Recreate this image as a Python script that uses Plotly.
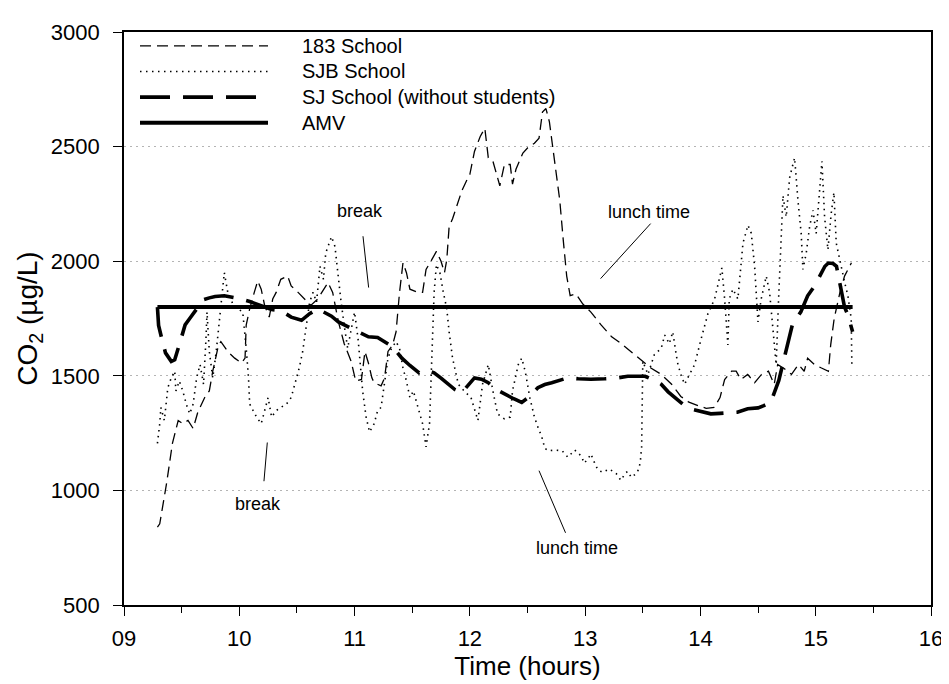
import plotly.graph_objects as go

# ---------------- data ----------------
hours_183 = [9.29, 9.31, 9.37, 9.42, 9.47, 9.51, 9.555, 9.60, 9.64, 9.70, 9.74, 9.77, 9.82, 9.84,
             9.90, 9.96, 10.02, 10.05, 10.06, 10.09, 10.13, 10.16, 10.19, 10.22, 10.26, 10.29,
             10.32, 10.36, 10.42, 10.45, 10.51, 10.57, 10.62, 10.68, 10.73, 10.77, 10.81, 10.86,
             10.91, 10.97, 11.01, 11.06, 11.09, 11.12, 11.15, 11.17, 11.23, 11.26, 11.29, 11.33,
             11.36, 11.39, 11.42, 11.45, 11.48, 11.55, 11.59, 11.62, 11.67, 11.71, 11.75, 11.78,
             11.80, 11.82, 11.85, 11.93, 11.97, 12.00, 12.04, 12.09, 12.13, 12.16, 12.20, 12.26,
             12.30, 12.35, 12.37, 12.40, 12.46, 12.50, 12.56, 12.60, 12.63, 12.66, 12.69, 12.73,
             12.78, 12.81, 12.84, 12.87, 12.92, 12.98, 13.05, 13.14, 13.23, 13.31, 13.40, 13.49,
             13.57, 13.66, 13.75, 13.83, 13.90, 13.98, 14.05, 14.12, 14.17, 14.21, 14.27, 14.31,
             14.35, 14.41, 14.47, 14.53, 14.59, 14.64, 14.67, 14.72, 14.79, 14.85, 14.90, 14.93,
             14.99, 15.05, 15.11, 15.13, 15.16, 15.21, 15.25, 15.31]
co2_183 = [840, 854, 1033, 1205, 1305, 1291, 1305, 1270, 1341, 1405, 1434, 1520, 1635, 1649,
           1606, 1577, 1556, 1577, 1721, 1792, 1864, 1914, 1878, 1807, 1756, 1835,
           1864, 1921, 1935, 1892, 1864, 1835, 1807, 1835, 1878, 1907, 1864, 1735,
           1640, 1563, 1477, 1484, 1606, 1556, 1491, 1470, 1456, 1491, 1606, 1635,
           1692, 1864, 1993, 1950, 1878, 1864, 1864, 1964, 2007, 2043, 2000, 1950,
           2007, 2150, 2185, 2307, 2350, 2379, 2479, 2544, 2580, 2451, 2436, 2329,
           2422, 2422, 2336, 2401, 2472, 2494, 2515, 2537, 2651, 2666, 2608, 2451,
           2265, 2093, 1935, 1850, 1857, 1813, 1778, 1721, 1670, 1642, 1606, 1570,
           1534, 1506, 1463, 1410, 1385, 1370, 1358, 1362, 1405, 1484, 1520, 1520,
           1484, 1506, 1470, 1506, 1520, 1463, 1549, 1534, 1506, 1549, 1520, 1577,
           1549, 1534, 1520, 1635, 1749, 1864, 1935, 1993]

hours_sjb = [9.29, 9.31, 9.32, 9.35, 9.38, 9.41, 9.44, 9.45, 9.48, 9.51, 9.54, 9.57, 9.60, 9.63,
             9.66, 9.69, 9.71, 9.72, 9.74, 9.77, 9.80, 9.83, 9.86, 9.87, 9.90, 9.95, 9.99, 10.03,
             10.06, 10.08, 10.09, 10.12, 10.15, 10.19, 10.22, 10.25, 10.28, 10.32, 10.36, 10.41,
             10.45, 10.48, 10.52, 10.55, 10.58, 10.61, 10.64, 10.67, 10.70, 10.73, 10.75, 10.80,
             10.83, 10.86, 10.88, 10.91, 10.94, 10.97, 11.00, 11.03, 11.07, 11.10, 11.13, 11.17,
             11.20, 11.23, 11.26, 11.29, 11.32, 11.36, 11.39, 11.42, 11.45, 11.48, 11.51, 11.54,
             11.56, 11.59, 11.62, 11.65, 11.67, 11.69, 11.71, 11.74, 11.77, 11.80, 11.82, 11.85,
             11.90, 11.95, 12.01, 12.07, 12.11, 12.16, 12.20, 12.24, 12.30, 12.35, 12.37, 12.42,
             12.45, 12.48, 12.52, 12.56, 12.60, 12.62, 12.65, 12.68, 12.74, 12.80, 12.85, 12.91,
             12.97, 12.99, 13.02, 13.05, 13.08, 13.11, 13.15, 13.21, 13.27, 13.31, 13.35, 13.37,
             13.40, 13.45, 13.47, 13.48, 13.49, 13.50, 13.545, 13.60, 13.66, 13.69, 13.73, 13.76,
             13.79, 13.805, 13.834, 13.863, 13.89, 13.95, 14.007, 14.065, 14.123, 14.166, 14.186,
             14.21, 14.238, 14.25, 14.282, 14.325, 14.369, 14.412, 14.441, 14.47, 14.499, 14.527,
             14.571, 14.60, 14.629, 14.657, 14.678, 14.701, 14.716, 14.744, 14.774, 14.802, 14.817,
             14.846, 14.874, 14.889, 14.918, 14.947, 14.976, 15.004, 15.034, 15.054, 15.077, 15.106,
             15.134, 15.158, 15.178, 15.207, 15.251, 15.279, 15.308, 15.314]
co2_sjb = [1205, 1291, 1362, 1305, 1448, 1491, 1520, 1434, 1477, 1434, 1377, 1334, 1377, 1491,
           1549, 1463, 1649, 1778, 1606, 1491, 1606, 1749, 1921, 1950, 1864, 1807, 1792, 1778,
           1620, 1491, 1377, 1348, 1320, 1291, 1348, 1405, 1320, 1348, 1362, 1377,
           1405, 1463, 1534, 1606, 1721, 1821, 1864, 1821, 1978, 1921, 2036, 2107,
           2064, 1907, 1835, 1721, 1620, 1700, 1778, 1663, 1434, 1320, 1255, 1291,
           1348, 1362, 1463, 1577, 1620, 1649, 1620, 1534, 1477, 1405, 1434, 1377,
           1348, 1291, 1190, 1291, 1577, 1864, 1985, 1950, 1864, 1792, 1692, 1577,
           1463, 1434, 1405, 1305, 1463, 1549, 1434, 1334, 1312, 1320, 1434, 1549,
           1577, 1520, 1405, 1320, 1262, 1241, 1184, 1173, 1176, 1173, 1145, 1176,
           1148, 1119, 1134, 1159, 1122, 1090, 1079, 1093, 1073, 1044, 1076, 1083,
           1057, 1076, 1102, 1133, 1190, 1563, 1506, 1592, 1620, 1678, 1640, 1692,
           1592, 1549, 1500, 1463, 1491, 1549, 1663, 1771, 1835, 1921, 1971,
           1835, 1635, 1835, 1878, 1835, 2079, 2157, 2122, 1978, 1735, 1835,
           1935, 1864, 1692, 1549, 1835, 2121, 2286, 2193, 2365, 2422, 2451,
           2265, 2121, 1964, 2036, 2150, 2222, 2121, 2293, 2436, 2193, 2050,
           2207, 2300, 2079, 2007, 1907, 1850, 1749, 1534]

hours_sj = [9.29, 9.30, 9.32, 9.36, 9.41, 9.44, 9.48, 9.53, 9.57, 9.63, 9.69, 9.74, 9.79, 9.87,
            9.93, 9.99, 10.09, 10.19, 10.28, 10.36, 10.45, 10.54, 10.61, 10.68, 10.75, 10.80,
            10.86, 10.95, 11.03, 11.12, 11.20, 11.33, 11.41, 11.48, 11.56, 11.62, 11.69, 11.75,
            11.81, 11.87, 11.93, 11.99, 12.04, 12.10, 12.16, 12.23, 12.30, 12.38, 12.45, 12.52,
            12.59, 12.65, 12.71, 12.78, 12.85, 12.94, 13.05, 13.17, 13.27, 13.37, 13.45, 13.52,
            13.60, 13.66, 13.72, 13.78, 13.85, 13.92, 14.00, 14.09, 14.17, 14.24, 14.32, 14.41,
            14.50, 14.55, 14.61, 14.68, 14.74, 14.80, 14.87, 14.93, 14.99, 15.05, 15.08, 15.11,
            15.15, 15.18, 15.22, 15.25, 15.28, 15.32]
co2_sj = [1800, 1720, 1678, 1600, 1563, 1570, 1636, 1722, 1750, 1792, 1832, 1840, 1846, 1849,
          1845, 1838, 1824, 1807, 1789, 1785, 1756, 1742, 1771, 1792, 1771, 1760,
          1735, 1710, 1692, 1670, 1667, 1627, 1577, 1545, 1513, 1525, 1513, 1490,
          1463, 1440, 1427, 1460, 1491, 1485, 1470, 1440, 1420, 1400, 1384, 1410,
          1448, 1462, 1470, 1480, 1491, 1487, 1485, 1487, 1490, 1498, 1497, 1498,
          1480, 1463, 1430, 1405, 1375, 1355, 1345, 1334, 1336, 1340, 1341, 1356,
          1360, 1370, 1384, 1480, 1606, 1728, 1778, 1849, 1892, 1950, 1978, 1992,
          1990, 1978, 1878, 1800, 1764, 1692]

hours_amv = [9.29, 15.32]
co2_amv = [1800, 1800]

series_names = ["183 School", "SJB School", "SJ School (without students)", "AMV"]

x_tick_vals = [9, 10, 11, 12, 13, 14, 15, 16]
x_tick_text = ["09", "10", "11", "12", "13", "14", "15", "16"]
y_tick_vals = [500, 1000, 1500, 2000, 2500, 3000]

notes_text = ["break", "break", "lunch time", "lunch time"]
notes_x = [11.05, 10.16, 13.55, 12.93]
notes_y = [2220, 940, 2216, 747]
leader_x0 = [11.073, 10.243, 13.568, 12.60]
leader_y0 = [2109, 1209, 2164, 1086]
leader_x1 = [11.122, 10.214, 13.134, 12.83]
leader_y1 = [1885, 1040, 1924, 815]

# ---------------- styling ----------------
FONT = "Liberation Sans, Arial, Helvetica, sans-serif"
W, H = 949, 684
L, R, T, B = 116, 923, 16, 597

styles = [
    dict(width=1.3, dash="11px,6px"),
    dict(width=1.6, dash="1.5px,4.5px"),
    dict(width=3.6, dash="30px,13px"),
    dict(width=4.0, dash="solid"),
]
xs = [hours_183, hours_sjb, hours_sj, hours_amv]
ys = [co2_183, co2_sjb, co2_sj, co2_amv]

fig = go.Figure()
for name, xv, yv, st in zip(series_names, xs, ys, styles):
    fig.add_trace(go.Scatter(x=xv, y=yv, mode="lines", name=name,
                             line=dict(color="black", width=st["width"], dash=st["dash"]),
                             showlegend=False))


def pxx(px):
    return (px - L) / (R - L)


def pyy(py):
    return (B - py) / (B - T)


# custom legend (long line samples like the original)
legend_rows = [30, 56, 82, 108]
shapes = []
annotations = []
for name, st, row in zip(series_names, styles, legend_rows):
    shapes.append(dict(type="line", xref="paper", yref="paper",
                       x0=pxx(132), x1=pxx(260), y0=pyy(row), y1=pyy(row),
                       line=dict(color="black", width=st["width"], dash=st["dash"])))
    annotations.append(dict(xref="paper", yref="paper", x=pxx(292), y=pyy(row),
                            text=name, showarrow=False, xanchor="left", yanchor="middle",
                            font=dict(family=FONT, size=20, color="black")))

for t, tx, ty, x0, y0, x1, y1 in zip(notes_text, notes_x, notes_y,
                                      leader_x0, leader_y0, leader_x1, leader_y1):
    annotations.append(dict(x=tx, y=ty, xref="x", yref="y", text=t, showarrow=False,
                            font=dict(family=FONT, size=18, color="black")))
    shapes.append(dict(type="line", xref="x", yref="y", x0=x0, y0=y0, x1=x1, y1=y1,
                       line=dict(color="black", width=1)))

fig.update_layout(
    width=W, height=H,
    margin=dict(l=L, r=W - R, t=T, b=H - B, pad=0),
    paper_bgcolor="white", plot_bgcolor="white",
    font=dict(family=FONT, color="black"),
    shapes=shapes, annotations=annotations,
    showlegend=False,
)
fig.update_xaxes(
    range=[9, 16], tickmode="array", tickvals=x_tick_vals, ticktext=x_tick_text,
    ticks="outside", ticklen=9, tickwidth=1.3, tickcolor="black",
    minor=dict(dtick=0.5, tick0=9, ticks="outside", ticklen=6, tickwidth=1.3, tickcolor="black"),
    showline=True, linecolor="black", linewidth=1.6, mirror=True,
    showgrid=False, zeroline=False,
    tickfont=dict(family=FONT, size=22), ticklabelstandoff=4,
    title=dict(text="Time (hours)", font=dict(family=FONT, size=26), standoff=5),
)
fig.update_yaxes(
    range=[500, 3000], tickmode="array", tickvals=y_tick_vals,
    ticks="outside", ticklen=9, tickwidth=1.3, tickcolor="black",
    showline=True, linecolor="black", linewidth=1.6, mirror=True,
    showgrid=True, gridcolor="#b4b4b4", gridwidth=1, griddash="2px,4px",
    zeroline=False,
    tickfont=dict(family=FONT, size=22), ticklabelstandoff=9,
    title=dict(text="CO<sub>2</sub> (µg/L)", font=dict(family=FONT, size=28), standoff=5),
)

fig.write_html("out.html")
